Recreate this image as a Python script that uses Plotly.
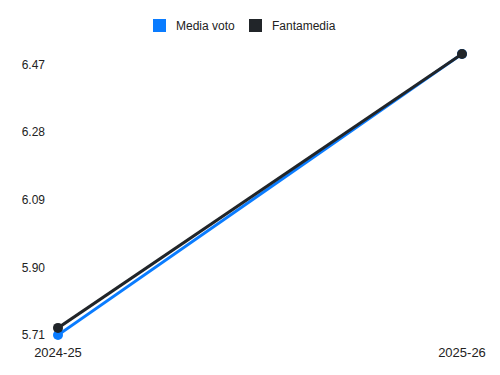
import plotly.graph_objects as go

seasons = ["2024-25", "2025-26"]
media_voto = [5.71, 6.50]
fantamedia = [5.73, 6.50]
y_ticks = [5.71, 5.90, 6.09, 6.28, 6.47]
legend_names = ["Media voto", "Fantamedia"]

BLUE = "#0a7cff"
DARK = "#212529"
colors = [BLUE, DARK]

W, H = 500, 375
L, R, T, B = 58, 38, 54, 40
PW, PH = W - L - R, H - T - B


def px(x):
    return (x - L) / PW


def py(y):
    return (H - B - y) / PH


fig = go.Figure()
for name, vals, col in zip(legend_names, [media_voto, fantamedia], colors):
    fig.add_trace(go.Scatter(
        x=seasons, y=vals, mode="lines+markers", name=name,
        line=dict(color=col, width=3), marker=dict(color=col, size=10),
        cliponaxis=False, showlegend=False))

# custom legend (square swatches + labels)
sq_left = [153, 249]
txt_left = [174, 270]
for name, col, sx, tx in zip(legend_names, colors, sq_left, txt_left):
    fig.add_shape(type="rect", xref="paper", yref="paper",
                  x0=px(sx), x1=px(sx + 13), y0=py(32), y1=py(19),
                  fillcolor=col, line=dict(width=0))
    fig.add_annotation(xref="paper", yref="paper", x=px(tx), y=py(25.5),
                       xanchor="left", yanchor="middle", showarrow=False,
                       text=name, font=dict(size=12, color="#222"))

fig.update_layout(
    width=W, height=H,
    margin=dict(l=L, r=R, t=T, b=B),
    paper_bgcolor="white", plot_bgcolor="white",
    font=dict(family="Liberation Sans, Arial, sans-serif", size=12, color="#222"),
    showlegend=False,
    xaxis=dict(type="category", range=[0, 1], showgrid=False, zeroline=False,
               showline=False, ticks="", ticklabelstandoff=8,
               tickfont=dict(size=13)),
    yaxis=dict(range=[5.71, 6.50], tickvals=y_ticks, ticktext=[f"{v:.2f}" for v in y_ticks],
               showgrid=False, zeroline=False, showline=False, ticks="",
               ticklabelstandoff=12),
)
fig.write_html("out.html")
